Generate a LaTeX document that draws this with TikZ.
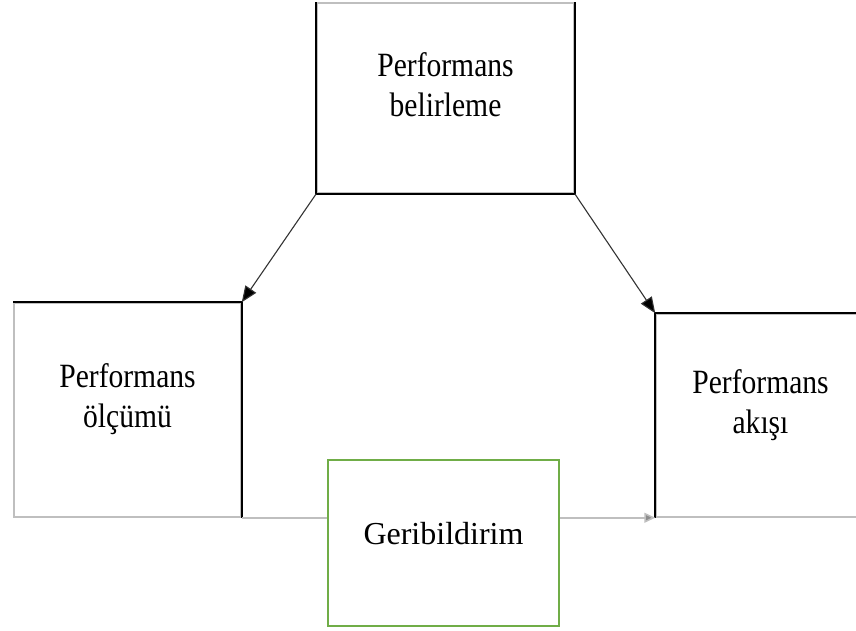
\documentclass[tikz,border=0pt]{standalone}
\usepackage{fontspec}
\setmainfont{Liberation Serif}
\usetikzlibrary{arrows.meta}
\definecolor{fbgreen}{RGB}{112,173,71}

\begin{document}
\begin{tikzpicture}[x=1pt,y=-1pt,inner sep=0pt,
        box/.style={draw=black!25,line width=1.5pt,fill=white},
        edge/.style={draw=black,line width=2pt,line join=miter},
        txt/.style={align=center,font=\fontsize{34}{40}\selectfont,xscale=0.87,transform shape},
        arr/.style={draw=black!80,line width=1.1pt,-{Triangle[length=16,width=13,fill=black]}}]
\useasboundingbox (0,0) rectangle (856,630);
\clip (0,0) rectangle (856,630);
% boxes
\draw (445.5,98) node[box,minimum width=257,minimum height=190](belirleme) {};
\draw (127.5,410) node[box,minimum width=227,minimum height=214](olcum) {};
\draw (759,415.5) node[box,minimum width=206,minimum height=203](akis) {};
\draw[edge] (belirleme.north west) -- (belirleme.south west) -- (belirleme.south east) -- (belirleme.north east);
\draw[edge] (olcum.north west) -- (olcum.north east) -- (olcum.south east);
\draw[edge] (akis.south west) -- (akis.north west) -- (akis.north east);
% texts
\draw (belirleme.center) ++(0,-13) node[txt](belirlemetxt) {Performans\\belirleme};
\draw (olcum.center) ++(0,-11) node[txt](olcumtxt) {Performans\\ölçümü};
\draw (akis.center) ++(1.5,-10) node[txt](akistxt) {Performans\\akışı};
% arrows
\draw[arr] (belirleme.south west) -- (olcum.north east);
\draw[arr] (belirleme.south east) -- (akis.north west);
\draw[draw=black!25,line width=1.5pt,-{Triangle[length=11,width=10,fill=black!45]}] (olcum.south east) -- (akis.south west);
% feedback
\draw (443.5,543) node[draw=fbgreen,line width=2pt,fill=white,minimum width=231,minimum height=166](geri) {};
\draw (geri.center) ++(0,-9) node[font=\fontsize{32}{38}\selectfont](geritxt) {Geribildirim};
\end{tikzpicture}
\end{document}
